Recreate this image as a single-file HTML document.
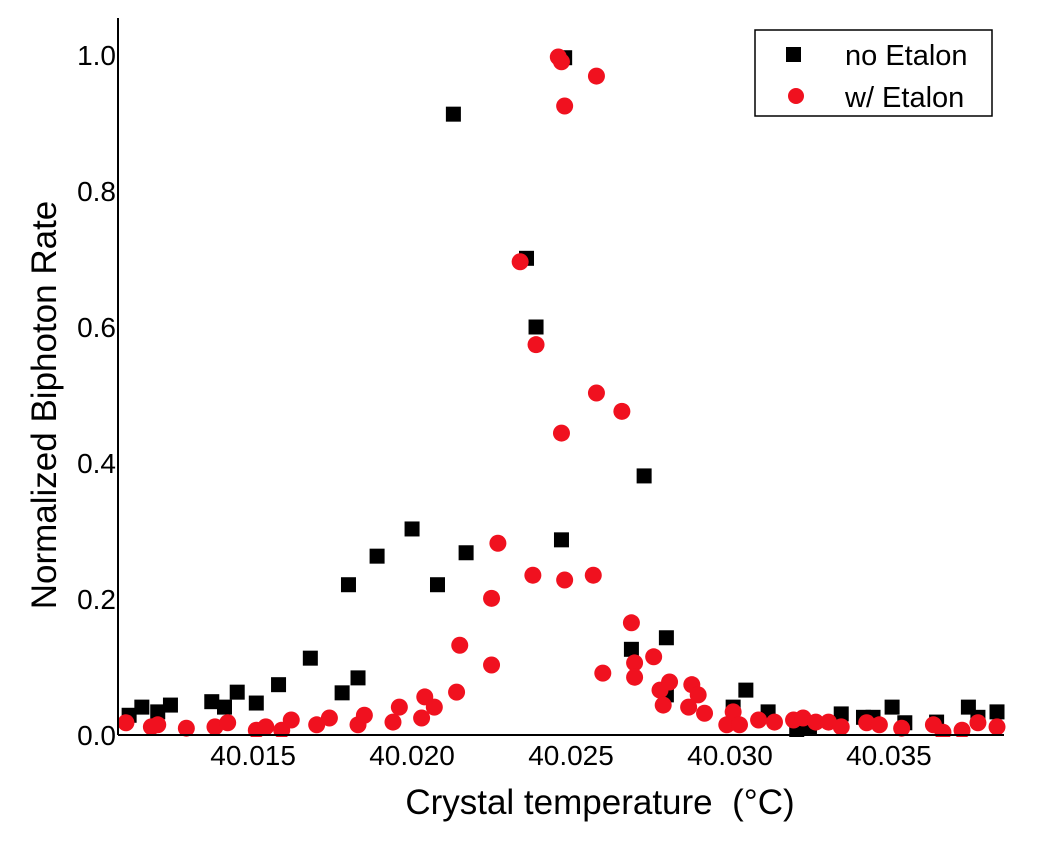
<!DOCTYPE html>
<html><head><meta charset="utf-8"><style>
body{margin:0;background:#fff}
svg{display:block;font-family:"Liberation Sans",Arial,sans-serif}
</style></head><body>
<svg id="chart" width="1056" height="842" viewBox="0 0 1056 842">
<defs><clipPath id="clip"><rect x="118" y="10" width="888" height="727"/></clipPath></defs>
<g id="marks" clip-path="url(#clip)"></g>
<g id="axes"></g>
<g>
<rect x="755" y="30" width="237" height="86" fill="#fff" stroke="#000" stroke-width="1.5"/>
<rect x="786" y="47" width="15" height="15" fill="#000"/>
<text x="845" y="65" font-size="29">no Etalon</text>
<circle cx="796" cy="96" r="8" fill="#f0111f"/>
<text x="845" y="107" font-size="29">w/ Etalon</text>
</g>
<text x="600" y="814" font-size="35" text-anchor="middle" style="white-space:pre">Crystal temperature  (°C)</text>
<text transform="translate(56,405) rotate(-90)" font-size="35" text-anchor="middle">Normalized Biphoton Rate</text>
</svg>
<script>
const xTicks=[40.015,40.020,40.025,40.030,40.035];
const xTickLabels=["40.015","40.020","40.025","40.030","40.035"];
const yTicks=[0,0.2,0.4,0.6,0.8,1.0];
const yTickLabels=["0.0","0.2","0.4","0.6","0.8","1.0"];
const noEtalonT=[40.0111,40.0115,40.0120,40.0124,40.0137,40.0141,40.0145,40.0151,40.0158,40.0168,40.0178,40.0183,40.0180,40.0189,40.0200,40.0208,40.0217,40.0213,40.0236,40.0239,40.0247,40.0248,40.0269,40.0273,40.0280,40.0280,40.0301,40.0305,40.0312,40.0321,40.0325,40.0335,40.0342,40.0345,40.0351,40.0355,40.0365,40.0375,40.0378,40.0384];
const noEtalonV=[0.029,0.041,0.034,0.044,0.049,0.041,0.063,0.047,0.074,0.113,0.062,0.084,0.221,0.263,0.303,0.221,0.268,0.913,0.701,0.600,0.287,0.996,0.126,0.381,0.143,0.059,0.041,0.066,0.034,0.007,0.012,0.031,0.026,0.026,0.041,0.018,0.019,0.041,0.026,0.034];
const etalonT=[40.0110,40.0118,40.0120,40.0129,40.0138,40.0142,40.0151,40.0154,40.0159,40.0162,40.0170,40.0174,40.0183,40.0185,40.0194,40.0196,40.0203,40.0204,40.0207,40.0214,40.0215,40.0225,40.0225,40.0227,40.0234,40.0238,40.0239,40.0246,40.0247,40.0247,40.0248,40.0248,40.0257,40.0258,40.0258,40.0260,40.0266,40.0269,40.0270,40.0270,40.0276,40.0278,40.0279,40.0281,40.0287,40.0288,40.0290,40.0292,40.0299,40.0301,40.0303,40.0309,40.0314,40.0320,40.0323,40.0327,40.0331,40.0335,40.0343,40.0347,40.0354,40.0364,40.0367,40.0373,40.0378,40.0384];
const etalonV=[0.018,0.012,0.015,0.010,0.012,0.018,0.007,0.012,0.007,0.022,0.015,0.025,0.015,0.029,0.019,0.041,0.025,0.056,0.041,0.063,0.132,0.201,0.103,0.282,0.696,0.235,0.574,0.997,0.990,0.444,0.228,0.925,0.235,0.969,0.503,0.091,0.476,0.165,0.106,0.085,0.115,0.066,0.044,0.078,0.041,0.074,0.059,0.032,0.015,0.034,0.015,0.022,0.019,0.022,0.025,0.019,0.019,0.012,0.018,0.015,0.010,0.015,0.004,0.007,0.018,0.012];

const X0=40.01075,X1=40.03862,PL=118,PR=1004,PB=735,PT=55;
const xs=t=>PL+(t-X0)/(X1-X0)*(PR-PL);
const ys=v=>PB-v*(PB-PT);
const NS="http://www.w3.org/2000/svg";
function mk(tag,attrs,parent){const e=document.createElementNS(NS,tag);for(const k in attrs)e.setAttribute(k,attrs[k]);parent.appendChild(e);return e;}
const axes=document.getElementById('axes'),marks=document.getElementById('marks');
let l=mk('line',{x1:PL,y1:18,x2:PL,y2:PB,stroke:'#000','stroke-width':2},axes);


l=mk('line',{x1:PL,y1:PB,x2:PR,y2:PB,stroke:'#000','stroke-width':2},axes);


xTicks.forEach((t,i)=>{
 const x=xs(t);
 const tx=mk('text',{x:x,y:765,'font-size':28,'text-anchor':'middle'},axes);
 tx.textContent=xTickLabels[i];
 
 
});
yTicks.forEach((v,i)=>{
 const y=ys(v);
 const tx=mk('text',{x:116,y:y+10,'font-size':28,'text-anchor':'end'},axes);
 tx.textContent=yTickLabels[i];
 
 
});
noEtalonT.forEach((t,i)=>{
 const r=mk('rect',{x:xs(t)-7.5,y:ys(noEtalonV[i])-7.5,width:15,height:15,fill:'#000'},marks);
 
 
});
etalonT.forEach((t,i)=>{
 const c=mk('circle',{cx:xs(t),cy:ys(etalonV[i]),r:8.5,fill:'#f0111f'},marks);
 
 
});
</script>
</body></html>
